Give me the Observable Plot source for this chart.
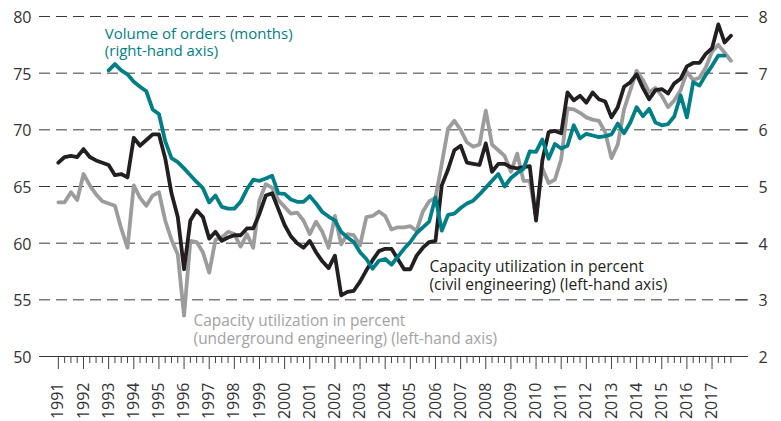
<!DOCTYPE html>
<html>
<head>
<meta charset="utf-8">
<script src="https://cdn.jsdelivr.net/npm/d3@7"></script>
<script src="https://cdn.jsdelivr.net/npm/@observablehq/plot@0.6"></script>
<style>
  html, body { margin: 0; padding: 0; background: #fff; }
  #chart svg { display: block; }
</style>
</head>
<body>
<div id="chart"></div>
<script>
// Quarterly data, first value = Q1 of start year
const startYear = 1991;
const ordersStartYear = 1993;

// Capacity utilization in percent (civil engineering), left axis
const civil = [
  67.1, 67.6, 67.7, 67.6,
  68.3, 67.6, 67.3, 67.1,
  66.9, 66.0, 66.1, 65.8,
  69.3, 68.6, 69.1, 69.6,
  69.6, 67.5, 64.4, 62.3,
  57.7, 62.0, 62.9, 62.3,
  60.4, 61.0, 60.2, 60.5,
  60.7, 60.7, 61.3, 61.3,
  62.6, 64.2, 64.4, 63.0,
  61.6, 60.6, 60.0, 59.6,
  60.2, 59.2, 58.4, 57.8,
  58.9, 55.4, 55.7, 55.8,
  56.6, 57.6, 58.5, 59.3,
  59.5, 59.5, 58.6, 57.7,
  57.7, 58.9, 59.6, 60.1,
  60.2, 65.1, 66.5, 68.2,
  68.6, 67.1, 67.0, 66.9,
  68.8, 66.3, 67.0, 67.0,
  66.7, 66.6, 66.7, 66.8,
  62.0, 67.3, 69.8, 69.9,
  69.7, 73.3, 72.6, 73.0,
  72.4, 73.3, 72.7, 72.5,
  71.1, 72.0, 73.8, 74.2,
  74.9, 73.7, 72.7, 73.5,
  73.6, 73.2, 74.1, 74.5,
  75.6, 75.9, 75.9, 76.7,
  77.2, 79.3, 77.7, 78.3
];

// Capacity utilization in percent (underground engineering), left axis
const underground = [
  63.6, 63.6, 64.5, 63.8,
  66.1, 65.1, 64.3, 63.7,
  63.5, 63.3, 61.3, 59.6,
  65.1, 64.0, 63.3, 64.2,
  64.5, 62.0, 60.3, 59.0,
  53.6, 60.2, 60.1, 59.2,
  57.4, 60.3, 60.5, 61.0,
  60.8, 59.7, 60.8, 59.6,
  63.8, 65.2, 64.9, 63.8,
  63.2, 62.6, 62.7, 62.0,
  60.8, 61.9, 61.0, 59.6,
  62.4, 59.9, 60.8, 60.7,
  59.8, 62.3, 62.4, 62.8,
  62.4, 61.2, 61.4, 61.4,
  61.5, 61.1, 62.8, 63.7,
  64.0, 67.0, 70.1, 70.8,
  70.0, 68.9, 68.5, 68.7,
  71.7, 68.7, 68.2, 67.7,
  66.3, 67.9, 65.5, 65.5,
  62.3, 66.6, 65.3, 65.6,
  67.4, 71.9, 71.8, 71.5,
  71.1, 70.9, 70.8, 69.8,
  67.5, 68.7, 71.8, 73.5,
  75.2, 74.4, 73.3, 73.7,
  73.0, 72.0, 72.6, 73.5,
  75.1, 74.4, 74.6, 75.5,
  76.9, 77.5, 76.8, 76.1
];

// Volume of orders (months), right axis
const orders = [
  7.05, 7.16, 7.05, 6.98,
  6.85, 6.76, 6.68, 6.36,
  6.28, 5.80, 5.50, 5.43,
  5.32, 5.20, 5.08, 4.97,
  4.72, 4.84, 4.64, 4.61,
  4.61, 4.73, 4.95, 5.12,
  5.10, 5.14, 5.19, 4.88,
  4.87, 4.77, 4.73, 4.73,
  4.83, 4.70, 4.55, 4.47,
  4.40, 4.20, 4.10, 4.02,
  3.84, 3.72, 3.55, 3.69,
  3.72, 3.62, 3.76, 3.90,
  4.02, 4.18, 4.28, 4.38,
  4.81, 4.22, 4.50, 4.52,
  4.62, 4.70, 4.75, 4.86,
  4.98, 5.10, 5.22, 5.00,
  5.15, 5.24, 5.31, 5.62,
  5.61, 5.83, 5.49, 5.75,
  5.67, 5.72, 6.08, 5.85,
  5.93, 5.90, 5.87, 5.89,
  5.92, 6.11, 5.94, 6.13,
  6.40, 6.24, 6.37, 6.13,
  6.08, 6.10, 6.24, 6.61,
  6.22, 6.84, 6.78, 6.97,
  7.13, 7.31, 7.31
];

const yearTicks = d3.range(1991, 2018);
const leftTicks = [50, 55, 60, 65, 70, 75, 80];
const rightTicks = [2, 3, 4, 5, 6, 7, 8];

const annotations = [
  {x: 1992.85, y: 79.12, text: "Volume of orders (months)\n(right-hand axis)", color: "#007f86", size: 15},
  {x: 2005.76, y: 58.6, text: "Capacity utilization in percent\n(civil engineering) (left-hand axis)", color: "#231f20", size: 15.6},
  {x: 1996.38, y: 53.8, text: "Capacity utilization in percent\n(underground engineering) (left-hand axis)", color: "#a2a2a2", size: 15.4}
];

// map right-axis value to left-axis scale
const r2l = d3.scaleLinear().domain([rightTicks[0], rightTicks[rightTicks.length - 1]])
  .range([leftTicks[0], leftTicks[leftTicks.length - 1]]);

const quarterTicks = [];
for (const y of yearTicks) for (const q of [1, 2, 3]) quarterTicks.push(y + q / 4);

const civilRows = civil.map((v, i) => ({t: startYear + i / 4, v}));
const underRows = underground.map((v, i) => ({t: startYear + i / 4, v}));
const orderRows = orders.map((v, i) => ({t: ordersStartYear + i / 4, v: r2l(v)}));

const chart = Plot.plot({
  width: 781,
  height: 421,
  marginLeft: 39,
  marginRight: 33,
  marginTop: 16,
  marginBottom: 65,
  style: {fontFamily: "'Open Sans', sans-serif", fontSize: "15px", color: "#333", background: "#fff", overflow: "visible"},
  x: {domain: [1990.25, 2018.45], label: null},
  y: {domain: [leftTicks[0], leftTicks[leftTicks.length - 1]], label: null},
  marks: [
    Plot.gridY(leftTicks.slice(1), {stroke: "#3a3a3a", strokeOpacity: 1, strokeWidth: 1, strokeDasharray: "11,6"}),
    Plot.ruleY(leftTicks.slice(1), {stroke: "#3a3a3a", strokeWidth: 1, insetLeft: 696}),
    Plot.ruleY([leftTicks[0]], {stroke: "#333", strokeWidth: 1}),
    Plot.axisY({anchor: "left", ticks: leftTicks, tickSize: 0, tickPadding: 8, label: null, dy: 1.5, fill: "#333", fontSize: 16}),
    Plot.axisY({anchor: "right", ticks: leftTicks, tickSize: 0, tickPadding: 10, label: null, dy: 1.5, fill: "#333", fontSize: 16,
      tickFormat: d => String(rightTicks[leftTicks.indexOf(d)])}),
    Plot.axisX({ticks: quarterTicks, tickSize: 7, tickFormat: () => "", label: null, stroke: "#444"}),
    Plot.axisX({ticks: yearTicks, tickSize: 13, tickPadding: 13, tickRotate: -90, label: null, stroke: "#444", fill: "#333",
      fontSize: 16, tickFormat: d => String(d)}),
    Plot.line(underRows, {x: "t", y: "v", stroke: "#9c9c9c", strokeWidth: 3.8, strokeLinejoin: "round"}),
    Plot.line(civilRows, {x: "t", y: "v", stroke: "#231f20", strokeWidth: 3.8, strokeLinejoin: "round"}),
    Plot.line(orderRows, {x: "t", y: "v", stroke: "#007f86", strokeWidth: 3.8, strokeLinejoin: "round"}),
    ...annotations.map(a => Plot.text([a], {x: "x", y: "y", text: "text", fill: "color", textAnchor: "start",
      lineAnchor: "top", lineHeight: 1.15, fontSize: a.size}))
  ]
});

document.getElementById("chart").append(chart);
</script>
</body>
</html>
